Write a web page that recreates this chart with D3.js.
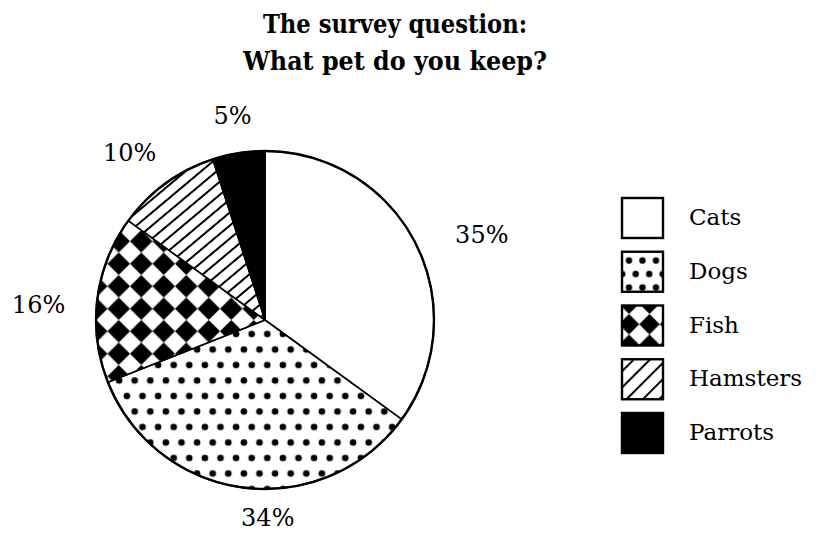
<!DOCTYPE html>
<html>
<head>
<meta charset="utf-8">
<script src="https://cdn.jsdelivr.net/npm/d3@7"></script>
<style>
  body { margin: 0; background: #fff; }
  svg { display: block; }
  text { font-family: "DejaVu Serif", serif; fill: #000; }
</style>
</head>
<body>
<div id="chart"></div>
<script>
// data
const categories = ["Cats", "Dogs", "Fish", "Hamsters", "Parrots"];
const shares = [35, 34, 16, 10, 5];
const shareLabels = ["35%", "34%", "16%", "10%", "5%"];
const titleLines = ["The survey question:", "What pet do you keep?"];

// layout
let width = 818;
let height = 539;
let cx = 265;
let cy = 320;
let radius = 169;

// title line widths as measured on the picture
let titleWidths = [264, 304];

// labels sit by hand round the pie: [angle nudge in degrees, distance from centre]
let labelPlace = [[5.5, 233], [-8, 198], [-3.3, 227], [-3, 215], [0, 207]];

let svg = d3
  .select("#chart")
  .append("svg")
  .attr("width", width)
  .attr("height", height);

svg.append("rect").attr("width", width).attr("height", height).attr("fill", "#fff");

let defs = svg.append("defs");

// dots for dogs
function dotPattern(id, w, h, x, y, r) {
  let p = defs
    .append("pattern")
    .attr("id", id)
    .attr("patternUnits", "userSpaceOnUse")
    .attr("width", w)
    .attr("height", h)
    .attr("x", x)
    .attr("y", y);
  p.append("rect").attr("width", w).attr("height", h).attr("fill", "#fff");
  p.append("circle").attr("cx", w / 4).attr("cy", h / 4).attr("r", r).attr("fill", "#000");
  p.append("circle").attr("cx", (3 * w) / 4).attr("cy", (3 * h) / 4).attr("r", r).attr("fill", "#000");
}

// rotated checkerboard for fish
function checkPattern(id, w, x, y) {
  let p = defs
    .append("pattern")
    .attr("id", id)
    .attr("patternUnits", "userSpaceOnUse")
    .attr("width", w)
    .attr("height", w)
    .attr("x", x)
    .attr("y", y);
  p.append("rect").attr("width", w).attr("height", w).attr("fill", "#fff");
  p.append("path")
    .attr("d", `M${w / 2},0L${w},${w / 2}L${w / 2},${w}L0,${w / 2}Z`)
    .attr("fill", "#000");
}

// diagonal hatch for hamsters
function hatchPattern(id, gap, angle, sw, x, y) {
  let p = defs
    .append("pattern")
    .attr("id", id)
    .attr("patternUnits", "userSpaceOnUse")
    .attr("width", gap)
    .attr("height", gap)
    .attr("x", x)
    .attr("y", y)
    .attr("patternTransform", `rotate(${-angle})`);
  p.append("rect").attr("width", gap).attr("height", gap).attr("fill", "#fff");
  p.append("line")
    .attr("x1", -1).attr("x2", gap + 1)
    .attr("y1", gap / 2).attr("y2", gap / 2)
    .attr("stroke", "#000")
    .attr("stroke-width", sw);
}

dotPattern("dots", 15.6, 31, 220.7 - 3.9, 386 - 7.75, 3.3);
checkPattern("check", 22.5, 0, 0);
hatchPattern("hatch", 10, 40, 2, 0, 0);

let pieFills = ["#fff", "url(#dots)", "url(#check)", "url(#hatch)", "#000"];

// title
svg.append("g")
  .selectAll("text")
  .data(titleLines)
  .enter()
  .append("text")
  .attr("x", 395)
  .attr("y", (d, i) => 33 + i * 37)
  .attr("text-anchor", "middle")
  .attr("font-size", 26)
  .attr("font-weight", "bold")
  .attr("textLength", (d, i) => titleWidths[i])
  .attr("lengthAdjust", "spacingAndGlyphs")
  .text(d => d);

// pie
let pie = d3.pie().sort(null).value(d => d);
let arcs = pie(shares);
let arc = d3.arc().innerRadius(0).outerRadius(radius);

let pieG = svg.append("g").attr("transform", `translate(${cx},${cy})`);

pieG.selectAll("path")
  .data(arcs)
  .enter()
  .append("path")
  .attr("d", arc)
  .attr("fill", (d, i) => pieFills[i])
  .attr("stroke", "#000")
  .attr("stroke-width", 1.6)
  .attr("stroke-linejoin", "round");

pieG.append("circle")
  .attr("r", radius)
  .attr("fill", "none")
  .attr("stroke", "#000")
  .attr("stroke-width", 2.4);

// percent labels
pieG.selectAll(".pct")
  .data(arcs)
  .enter()
  .append("text")
  .attr("class", "pct")
  .attr("font-size", 24)
  .attr("text-anchor", "middle")
  .attr("dy", "0.35em")
  .attr("x", (d, i) => {
    let a = (d.startAngle + d.endAngle) / 2 + (labelPlace[i][0] * Math.PI) / 180;
    return labelPlace[i][1] * Math.sin(a);
  })
  .attr("y", (d, i) => {
    let a = (d.startAngle + d.endAngle) / 2 + (labelPlace[i][0] * Math.PI) / 180;
    return -labelPlace[i][1] * Math.cos(a);
  })
  .text((d, i) => shareLabels[i]);

// legend
let legendX = 622;
let legendY = d3.scalePoint().domain(categories).range([198, 413]);
let boxW = 41;
let boxH = 40;

dotPattern("dotsKey", 13.5, 27, legendX - 3.4 + 6, legendY("Dogs") - 6.75, 3.2);
checkPattern("checkKey", boxW / 2, legendX - boxW / 4, legendY("Fish") - boxH / 4);
hatchPattern("hatchKey", 11.5, 45, 2, legendX, legendY("Hamsters"));
let keyFills = ["#fff", "url(#dotsKey)", "url(#checkKey)", "url(#hatchKey)", "#000"];

let legend = svg.append("g")
  .selectAll("g")
  .data(categories)
  .enter()
  .append("g")
  .attr("transform", d => `translate(${legendX},${legendY(d)})`);

legend.append("rect")
  .attr("width", boxW)
  .attr("height", boxH)
  .attr("fill", (d, i) => keyFills[i])
  .attr("stroke", "#000")
  .attr("stroke-width", 2.4);

legend.append("text")
  .attr("x", 67)
  .attr("y", 27)
  .attr("font-size", 23)
  .text(d => d);
</script>
</body>
</html>
